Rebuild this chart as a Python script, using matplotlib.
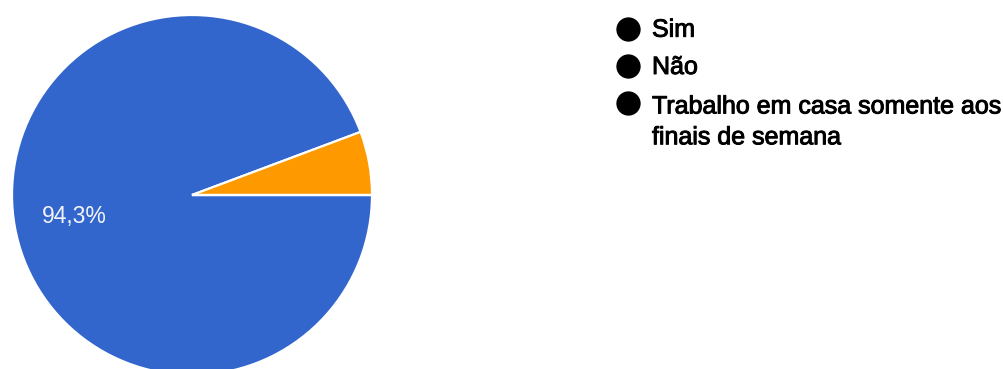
import matplotlib
matplotlib.use("Agg")
import matplotlib.pyplot as plt
import matplotlib.patheffects as pe

# Survey answers and their shares (%)
categories = ["Sim", "Não", "Trabalho em casa somente aos\nfinais de semana"]
shares = [94.3, 5.7, 0.0]
colors = ["#3366CC", "#FF9900", "#DC3912"]

W, H = 1004, 369
fig = plt.figure(figsize=(W / 100, H / 100), dpi=100)

# Pie area, in pixel-like units with y pointing up
ax = fig.add_axes([0, 0, 1, 1])


def fmt_pct(p):
    return f"{p:.1f}%".replace(".", ",") if p >= 10 else ""


wedges, texts, autotexts = ax.pie(
    shares,
    colors=colors,
    center=(192, H - 195),
    radius=180,
    startangle=0,
    counterclock=False,
    autopct=fmt_pct,
    pctdistance=0.667,
    wedgeprops=dict(edgecolor="white", linewidth=1.6),
    textprops=dict(color="#F2F4FA", fontsize=16.5, family="Liberation Sans"),
    frame=True,
)
ax.set_xlim(0, W)
ax.set_ylim(0, H)
ax.set_aspect("equal")
ax.axis("off")

# Legend column on the right, y pointing down
lax = fig.add_axes([0, 0, 1, 1])
lax.set_xlim(0, W)
lax.set_ylim(H, 0)
lax.axis("off")

line_step = 33
dot_y = [28.7, 66, 103.3]
heavy = [pe.withStroke(linewidth=0.7, foreground="black")]
for cat, y in zip(categories, dot_y):
    lax.plot(628, y, "o", color="black", markersize=17.5, markeredgewidth=0)
    # baseline alignment refers to the last line of a wrapped label
    extra = cat.count("\n") * line_step
    lax.text(652, y + 8 + extra, cat, fontsize=18, family="Liberation Sans",
             color="black", va="baseline", ha="left", linespacing=1.36,
             path_effects=heavy)

fig.savefig("out.png", dpi=100, facecolor="white")
